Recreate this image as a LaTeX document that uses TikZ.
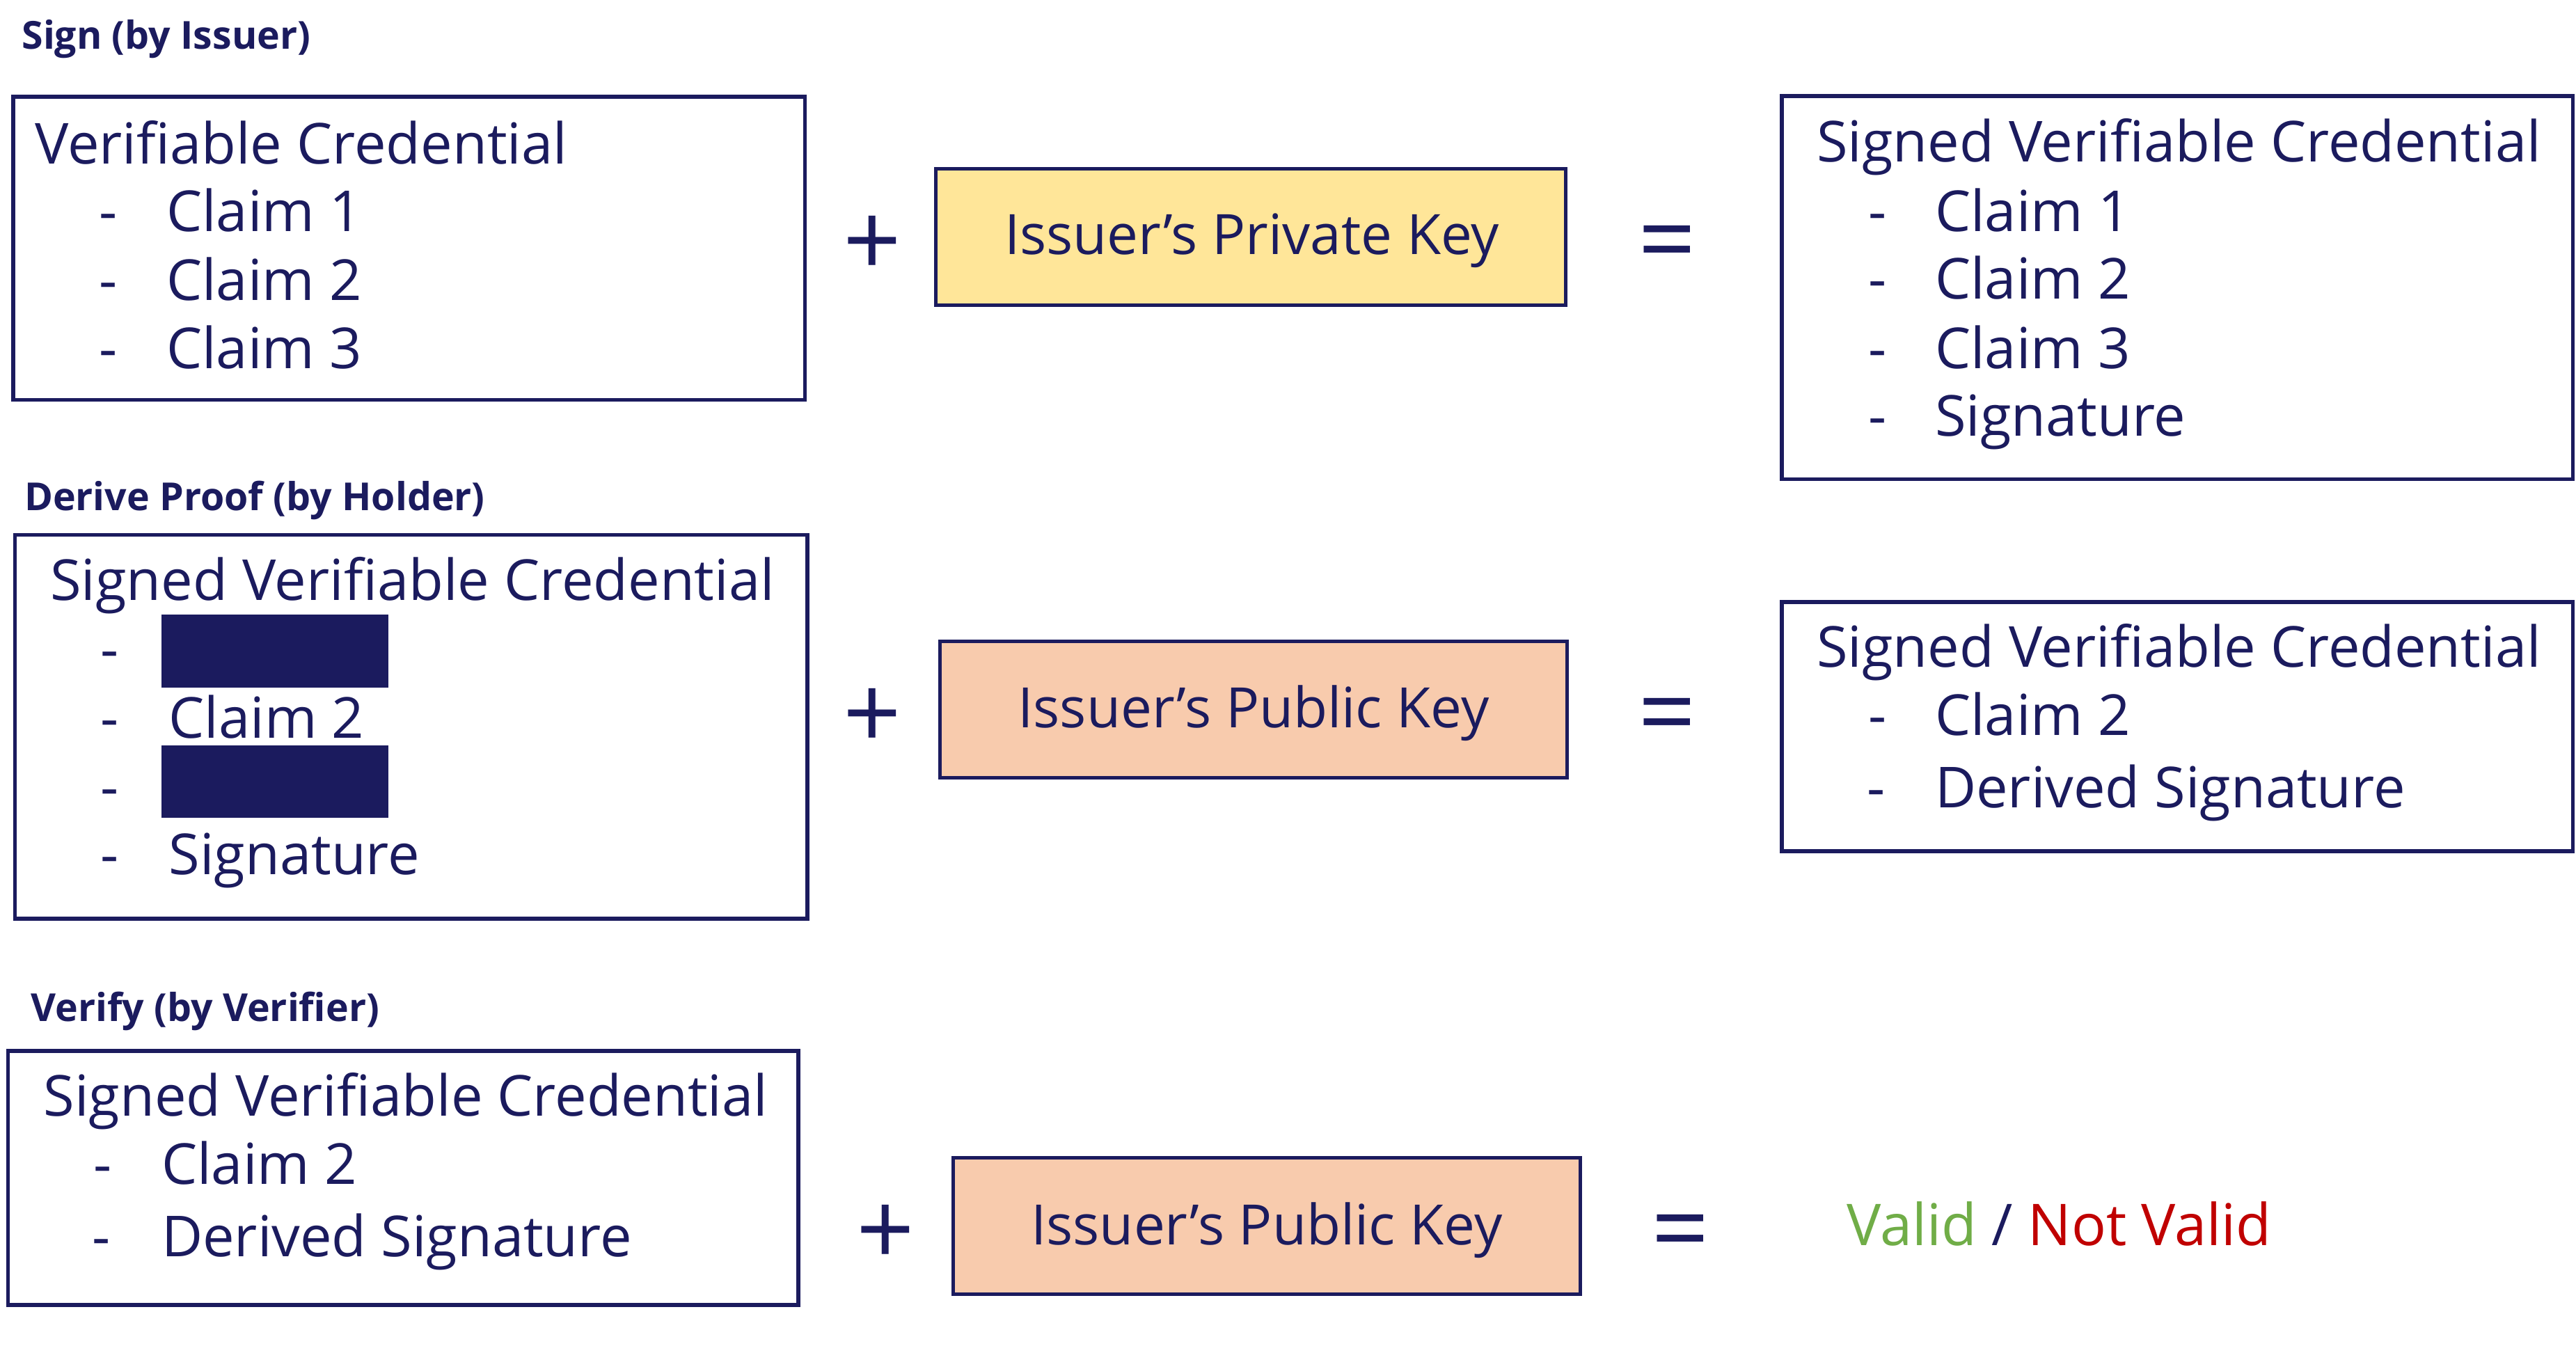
\documentclass[tikz,border=0pt]{standalone}
\usepackage{fontspec}
\setmainfont{Open Sans}
\usetikzlibrary{fit}
\definecolor{navy}{HTML}{1B1B5E}
\definecolor{keyyellow}{HTML}{FFE699}
\definecolor{keypeach}{HTML}{F8CBAD}
\definecolor{okgreen}{HTML}{70AD47}
\definecolor{badred}{HTML}{C00000}
\begin{document}
\begin{tikzpicture}[x=0.59pt,y=-0.59pt,
  frame/.style={draw=navy, line width=1.35pt, inner sep=0pt},
  keybox/.style={draw=navy, line width=1.25pt, inner sep=0pt},
  redact/.style={fill=navy, inner sep=0pt},
  txt/.style={anchor=base west, inner sep=0pt, text=navy, yshift=-0.9pt, font=\fontsize{20.3pt}{24pt}\selectfont},
  keytxt/.style={anchor=base, inner sep=0pt, text=navy, yshift=-0.6pt, font=\fontsize{20pt}{24pt}\selectfont},
  restxt/.style={anchor=base west, inner sep=0pt, text=navy, yshift=-0.6pt, font=\fontsize{20.7pt}{24pt}\selectfont},
  ttl/.style={anchor=base west, inner sep=0pt, text=navy, yshift=-0.5pt, font=\fontsize{13.85pt}{17pt}\selectfont\bfseries},
  op/.style={inner sep=0pt, text=navy, font=\fontsize{36.6pt}{40pt}\selectfont}]
\useasboundingbox[fill=white] (0,0) rectangle (1568,823.6);

% ---------- Row 1: Sign ----------
\node[ttl] (t1) at (13,29) {Sign (by Issuer)};
\node[frame, fit={(8.1,58.8) (490,243.3)}] (b1) {};
\node[txt] (b1h) at (21,98.3) {Verifiable Credential};
\foreach \i/\y in {1/139.3,2/181.2,3/223}{
  \node[txt] (b1d\i) at (60,\y) {-};
  \node[txt] (b1c\i) at (101,\y) {Claim \i};
}
\node[op] (p1) at (530.9,150) {+};
\node[keybox, fill=keyyellow, fit={(569.7,102.8) (952.9,185.6)}] (k1) {};
\node[keytxt] (k1t) at (762,153.9) {Issuer’s Private Key};
\node[op] (e1) at (1014.8,152.5) {=};
\node[frame, fit={(1084.6,58.4) (1566,291.6)}] (b3) {};
\node[txt] (b3h) at (1105.5,97) {Signed Verifiable Credential};
\foreach \i/\y in {1/139.2,2/180.5,3/222.7}{
  \node[txt] (b3d\i) at (1137,\y) {-};
  \node[txt] (b3c\i) at (1177.5,\y) {Claim \i};
}
\node[txt] (b3d4) at (1137,264) {-};
\node[txt] (b3s) at (1177.5,264) {Signature};

% ---------- Row 2: Derive Proof ----------
\node[ttl] (t2) at (14.5,310) {Derive Proof (by Holder)};
\node[frame, fit={(9.1,325.7) (491.5,559.2)}] (b4) {};
\node[txt] (b4h) at (30.3,363.8) {Signed Verifiable Credential};
\node[txt] (b4d1) at (61,406) {-};
\node[redact, fit={(98.4,374.3) (236.4,418.4)}] (r1) {};
\node[txt] (b4d2) at (61,447.8) {-};
\node[txt] (b4c2) at (102.5,447.8) {Claim 2};
\node[txt] (b4d3) at (61,489.6) {-};
\node[redact, fit={(98.4,453.8) (236.4,498)}] (r2) {};
\node[txt] (b4d4) at (61,530.8) {-};
\node[txt] (b4s) at (102.5,530.8) {Signature};
\node[op] (p2) at (531,437.5) {+};
\node[keybox, fill=keypeach, fit={(572,390.2) (954,473.3)}] (k2) {};
\node[keytxt] (k2t) at (763,442) {Issuer’s Public Key};
\node[op] (e2) at (1015,440) {=};
\node[frame, fit={(1084.6,366.5) (1566,518.2)}] (b6) {};
\node[txt] (b6h) at (1105.5,404.6) {Signed Verifiable Credential};
\node[txt] (b6d1) at (1137,446.2) {-};
\node[txt] (b6c2) at (1177.5,446.2) {Claim 2};
\node[txt] (b6d2) at (1136,490) {-};
\node[txt] (b6s) at (1177.5,490) {Derived Signature};

% ---------- Row 3: Verify ----------
\node[ttl] (t3) at (18.5,620.7) {Verify (by Verifier)};
\node[frame, fit={(4.9,639.8) (486,794.4)}] (b7) {};
\node[txt] (b7h) at (26.2,677.9) {Signed Verifiable Credential};
\node[txt] (b7d1) at (56.5,719.5) {-};
\node[txt] (b7c2) at (98,719.5) {Claim 2};
\node[txt] (b7d2) at (56,763.6) {-};
\node[txt] (b7s) at (98,763.6) {Derived Signature};
\node[op] (p3) at (539,751.9) {+};
\node[keybox, fill=keypeach, fit={(580,704.7) (962,787.8)}] (k3) {};
\node[keytxt] (k3t) at (771,756.5) {Issuer’s Public Key};
\node[op] (e3) at (1023,754.4) {=};
\node[restxt] (res) at (1124,757) {\textcolor{okgreen}{Valid} / \textcolor{badred}{Not Valid}};
\end{tikzpicture}
\end{document}
